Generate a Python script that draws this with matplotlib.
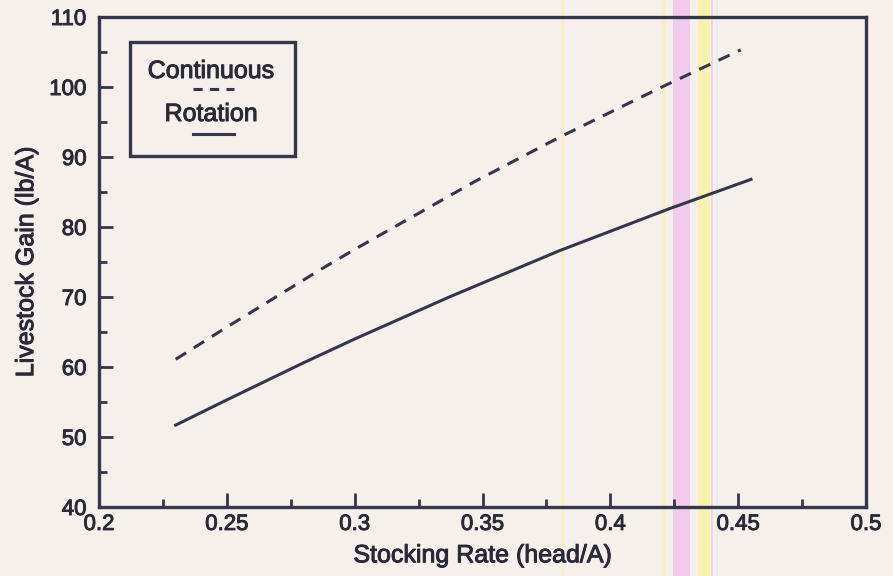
import matplotlib.pyplot as plt
import matplotlib.patheffects as pe
from matplotlib.patches import Rectangle
from matplotlib.ticker import MultipleLocator

# Значения
stock_cont = [0.23, 0.25, 0.287, 0.30, 0.347, 0.38, 0.419, 0.451]
gain_cont = [61.1, 65.7, 74.0, 76.8, 86.5, 92.8, 99.8, 105.3]
stock_rot = [0.23, 0.25, 0.28, 0.30, 0.337, 0.38, 0.423, 0.455]
gain_rot = [51.7, 55.3, 60.6, 64.0, 70.0, 76.6, 82.6, 86.8]
x_ticks = [0.2, 0.25, 0.3, 0.35, 0.4, 0.45, 0.5]
x_tick_labels = ['0.2', '0.25', '0.3', '0.35', '0.4', '0.45', '0.5']
y_ticks = [40, 50, 60, 70, 80, 90, 100, 110]

ink = '#35364a'
txt = '#2a2a36'
paper = '#f5f0ec'
bold = [pe.withStroke(linewidth=0.7, foreground=txt)]

plt.rcParams['font.family'] = ['Liberation Sans', 'DejaVu Sans']

fig = plt.figure(figsize=(8.93, 5.76), dpi=100, facecolor=paper)

# полосы от сканера
W, H = 893.0, 576.0
for x0, w, c, a in [(673, 17, '#f2c6ee', 0.9), (698, 12, '#f8f3a8', 0.9),
                    (562, 2, '#f8f3a8', 0.8), (662, 3, '#f8f3a8', 0.8),
                    (711, 2, '#f4c8ef', 0.7), (716, 2, '#d8f0f0', 0.7)]:
    fig.patches.append(Rectangle((x0 / W, 0), w / W, 1, transform=fig.transFigure,
                                 facecolor=c, edgecolor='none', alpha=a, zorder=-1))

ax = fig.add_axes([99 / W, (576 - 507) / H, 767 / W, 490 / H])
ax.set_facecolor('none')

ax.plot(stock_cont, gain_cont, color=ink, linewidth=2.2, dashes=(4, 3))
ax.plot(stock_rot, gain_rot, color=ink, linewidth=2.2)

ax.set_xlim(0.2, 0.5)
ax.set_ylim(40, 110)
ax.set_xticks(x_ticks)
ax.set_xticklabels(x_tick_labels)
ax.set_yticks(y_ticks)
ax.xaxis.set_minor_locator(MultipleLocator(0.025))
ax.yaxis.set_minor_locator(MultipleLocator(5))
ax.tick_params(which='both', direction='in', color=ink, top=False, right=False,
               labelsize=16, labelcolor=txt)
ax.tick_params(which='major', length=10, width=2)
ax.tick_params(which='minor', length=6, width=2)
ax.tick_params(axis='x', pad=5)
ax.tick_params(axis='y', pad=9)
for lab in ax.get_xticklabels() + ax.get_yticklabels():
    lab.set_path_effects(bold)
for s in ax.spines.values():
    s.set_color(ink)
    s.set_linewidth(2.4)

ax.set_xlabel('Stocking Rate (head/A)', fontsize=18, color=txt, labelpad=6,
              path_effects=bold)
ax.set_ylabel('Livestock Gain (lb/A)', fontsize=18, color=txt, labelpad=8,
              path_effects=bold)

# Легенда вручную: подпись над образцом линии
def px(x, y):
    return ((x - 99) / 767.0, (507 - y) / 490.0)

bx0, by0 = px(130, 156)
bx1, by1 = px(295, 42)
ax.add_patch(Rectangle((bx0, by0), bx1 - bx0, by1 - by0, transform=ax.transAxes,
                       facecolor='none', edgecolor=ink, linewidth=2.4, zorder=5))
tx, ty = px(211, 71)
ax.text(tx, ty, 'Continuous', transform=ax.transAxes, ha='center', va='center',
        fontsize=18, color=txt, path_effects=bold)
tx, ty = px(211, 114)
ax.text(tx, ty, 'Rotation', transform=ax.transAxes, ha='center', va='center',
        fontsize=18, color=txt, path_effects=bold)
lx0, ly = px(193, 89)
lx1, _ = px(234, 89)
ax.plot([lx0, lx1], [ly, ly], transform=ax.transAxes, color=ink, linewidth=2.2,
        dashes=(3, 2.4), clip_on=False)
lx0, ly = px(193, 134)
ax.plot([lx0, lx1], [ly, ly], transform=ax.transAxes, color=ink, linewidth=2.2,
        clip_on=False)

fig.savefig('out.png', dpi=100, facecolor=paper)
